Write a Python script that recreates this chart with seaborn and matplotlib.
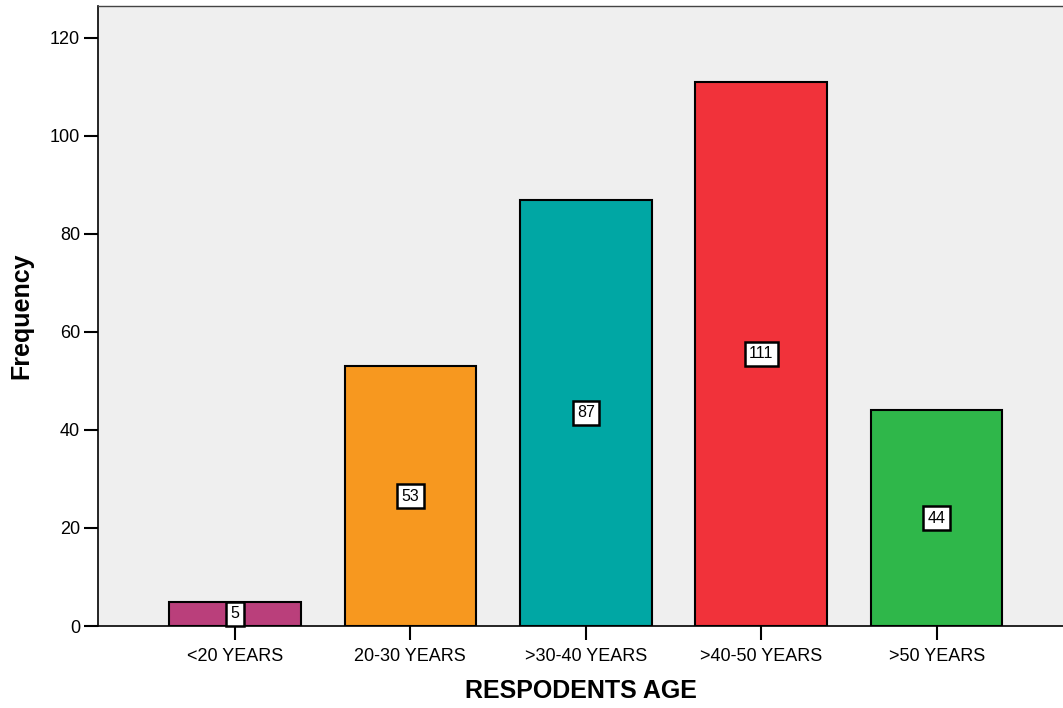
import matplotlib
matplotlib.use("Agg")
import matplotlib.pyplot as plt
import seaborn as sns
import pandas as pd

categories = ["<20 YEARS", "20-30 YEARS", ">30-40 YEARS", ">40-50 YEARS", ">50 YEARS"]
frequency = [5, 53, 87, 111, 44]
colors = ["#BA3F7B", "#F7981F", "#00A7A4", "#F1323A", "#2FB74A"]

df = pd.DataFrame({"age": categories, "freq": frequency})

sns.set_style("white")
plt.rcParams["font.family"] = ["Liberation Sans", "DejaVu Sans"]
plt.rcParams["text.color"] = "black"
plt.rcParams["axes.labelcolor"] = "black"
plt.rcParams["xtick.color"] = "black"
plt.rcParams["ytick.color"] = "black"

fig = plt.figure(figsize=(10.63, 7.08), dpi=100)
ax = fig.add_axes([0.0922, 0.1158, 0.9078, 0.8757])
ax.set_facecolor("#EFEFEF")

sns.barplot(data=df, x="age", y="freq", hue="age", palette=colors, order=categories,
            hue_order=categories, dodge=False, legend=False, width=0.75,
            edgecolor="black", linewidth=1.5, saturation=1, ax=ax)

for cont in ax.containers:
    ax.bar_label(cont, label_type="center", fontsize=11.5, color="black",
                 bbox=dict(boxstyle="square,pad=0.27", facecolor="white",
                           edgecolor="black", linewidth=1.8))

ax.set_ylim(0, 126.5)
ax.set_xlim(-0.78, 4.72)
ax.set_yticks([0, 20, 40, 60, 80, 100, 120])
ax.tick_params(axis="both", which="both", direction="out", length=10, width=1.5,
               color="black", labelcolor="black", labelsize=13, bottom=True, left=True)
ax.tick_params(axis="x", pad=6)
ax.tick_params(axis="y", pad=3)

for s in ["left", "bottom"]:
    ax.spines[s].set_visible(True)
    ax.spines[s].set_color("black")
    ax.spines[s].set_linewidth(1.2)
ax.spines["top"].set_visible(True)
ax.spines["top"].set_color("#444444")
ax.spines["top"].set_linewidth(1.0)
ax.spines["right"].set_visible(False)

ax.set_xlabel("RESPODENTS AGE", fontsize=18, fontweight="bold", labelpad=10, color="black")
ax.set_ylabel("Frequency", fontsize=18, fontweight="bold", labelpad=12, color="black")

fig.savefig("out.png", dpi=100)
